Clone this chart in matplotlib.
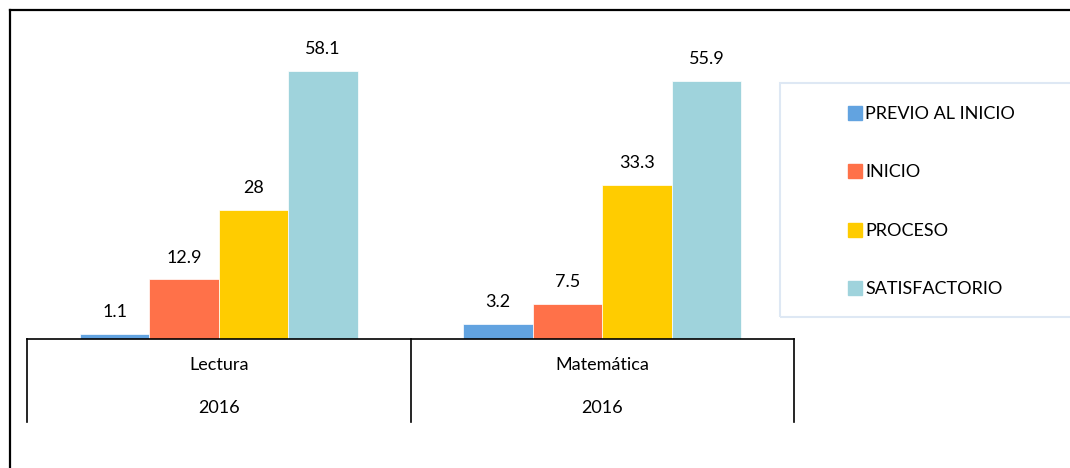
import numpy as np
import matplotlib
matplotlib.use('Agg')
import matplotlib.pyplot as plt
from matplotlib.patches import Rectangle
from matplotlib.lines import Line2D

# Data
categories = ['Lectura', 'Matemática']
years = ['2016', '2016']
series = ['PREVIO AL INICIO', 'INICIO', 'PROCESO', 'SATISFACTORIO']
lectura = [1.1, 12.9, 28, 58.1]
matematica = [3.2, 7.5, 33.3, 55.9]
colors = ['#62A3E0', '#FF7149', '#FFCC00', '#9FD3DC']

values = np.array([lectura, matematica])

plt.rcParams['font.family'] = ['Lato', 'DejaVu Sans']
fontsize = 13

W, H = 1070, 468
fig = plt.figure(figsize=(W / 100, H / 100), dpi=100)

# axes placed in pixel terms
ax_left, ax_right, ax_bottom, ax_top = 27, 794, 339, 62
ax = fig.add_axes([ax_left / W, 1 - ax_bottom / H, (ax_right - ax_left) / W, (ax_bottom - ax_top) / H])

x = np.arange(len(categories))
width = 0.181
for i, name in enumerate(series):
    pos = x + (i - 1.5) * width
    ax.bar(pos, values[:, i], width, color=colors[i], edgecolor='white', linewidth=0.5, label=name)
    for px, v in zip(pos, values[:, i]):
        ax.annotate('%g' % v, (px, v), xytext=(0, 10), textcoords='offset points',
                    ha='center', va='bottom', fontsize=fontsize, annotation_clip=False)

ax.set_xlim(-0.5, 1.5)
ax.set_ylim(0, 60)
for s in ['top', 'right', 'left']:
    ax.spines[s].set_visible(False)
ax.spines['bottom'].set_color('black')
ax.spines['bottom'].set_linewidth(1.2)
ax.set_xticks([])
ax.set_yticks([])

# two level category labels with separators
trans = ax.get_xaxis_transform()
axh = ax_bottom - ax_top
for xs in [-0.5, 0.5, 1.5]:
    ax.plot([xs, xs], [0, -83 / axh], transform=trans, color='black', lw=1.2, clip_on=False)
for xi, cat, yr in zip(x, categories, years):
    ax.text(xi, -26 / axh, cat, transform=trans, ha='center', va='center', fontsize=fontsize)
    ax.text(xi, -69 / axh, yr, transform=trans, ha='center', va='center', fontsize=fontsize)

# legend with its own light frame
fig.patches.append(Rectangle((780 / W, 1 - 317 / H), 300 / W, 234 / H, transform=fig.transFigure,
                             fill=False, edgecolor='#DEE8F4', lw=1.5))
handles = [Line2D([], [], marker='s', linestyle='none', markersize=9.5, color=c) for c in colors]
fig.legend(handles, series, loc='upper left', bbox_to_anchor=(837 / W, 1 - 97 / H),
           frameon=False, fontsize=fontsize, labelspacing=2.35, handletextpad=0.05,
           handlelength=1.0, borderpad=0)

# outer border: top and left only
fig.add_artist(Line2D([10 / W, 10 / W], [0, 1 - 10 / H], transform=fig.transFigure, color='black', lw=1.6))
fig.add_artist(Line2D([10 / W, 1], [1 - 10 / H, 1 - 10 / H], transform=fig.transFigure, color='black', lw=1.6))

plt.savefig('out.png', dpi=100)
